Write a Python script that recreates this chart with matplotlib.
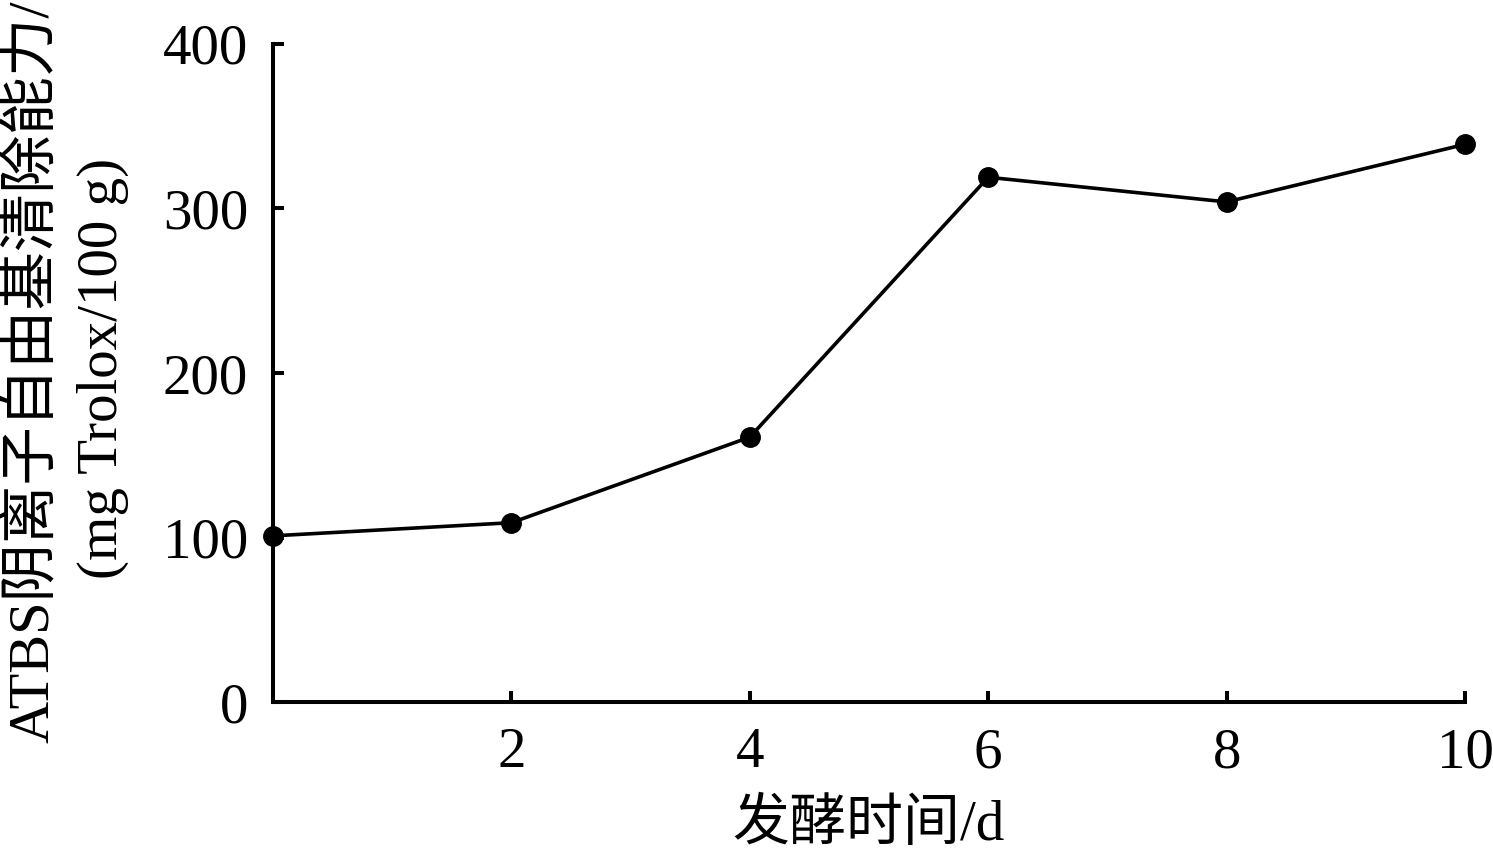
import matplotlib
matplotlib.use("Agg")
import matplotlib.pyplot as plt

days = [0, 2, 4, 6, 8, 10]
abts = [101, 109, 161, 319, 304, 339]
xticks = [2, 4, 6, 8, 10]
yticks = [0, 100, 200, 300, 400]

fam = ['Liberation Serif', 'Noto Sans CJK SC']
plt.rcParams['font.family'] = fam
plt.rcParams['font.size'] = 40

W, H = 1493, 855
fig = plt.figure(figsize=(W / 100, H / 100), dpi=100)
ax = fig.add_axes([273 / W, 1 - 702 / H, (1465 - 273) / W, (702 - 44) / H])

ax.plot(days, abts, color='black', lw=2.6, marker='o', ms=14, clip_on=False, zorder=3)
ax.set_xlim(0, 10)
ax.set_ylim(0, 400)
ax.set_xticks(xticks)
ax.set_yticks(yticks)
for s in ['top', 'right']:
    ax.spines[s].set_visible(False)
for s in ['left', 'bottom']:
    ax.spines[s].set_linewidth(2.9)
ax.tick_params(axis='both', direction='in', length=8, width=2.9, labelsize=41)
ax.tick_params(axis='y', pad=18)
ax.tick_params(axis='x', pad=18)

fig.text(33 / W, 1 - 372 / H, 'ATBS阴离子自由基清除能力/', rotation=90,
         ha='center', va='center', fontsize=42, family=fam)
fig.text(103 / W, 1 - 368 / H, '(mg Trolox/100 g)', rotation=90,
         ha='center', va='center', fontsize=41, family=fam)
fig.text(868 / W, 1 - 825 / H, '发酵时间/d', ha='center', va='center',
         fontsize=41, family=fam)

fig.savefig('out.png', dpi=100)
